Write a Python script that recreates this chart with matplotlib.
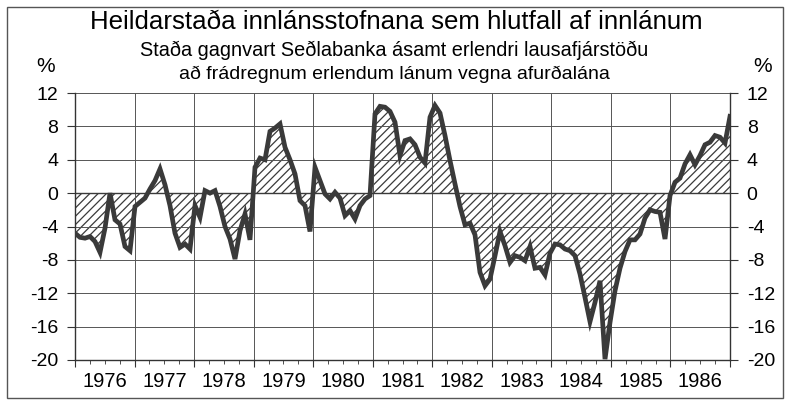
import numpy as np
import matplotlib
matplotlib.use("Agg")
import matplotlib.pyplot as plt
from matplotlib.patches import Rectangle

plt.rcParams['font.family'] = ['Liberation Sans', 'DejaVu Sans']
plt.rcParams['hatch.linewidth'] = 0.9
plt.rcParams['hatch.color'] = '#3a3a3a'

title = "Heildarstaða innlánsstofnana sem hlutfall af innlánum"
subtitle1 = "Staða gagnvart Seðlabanka ásamt erlendri lausafjárstöðu"
subtitle2 = "að frádregnum erlendum lánum vegna afurðalána"

years = [1976, 1977, 1978, 1979, 1980, 1981, 1982, 1983, 1984, 1985, 1986]
yticks = [12, 8, 4, 0, -4, -8, -12, -16, -20]

# Monthly values, Jan 1976 - Dec 1986 (%)
values = [
    -4.8, -5.3, -5.4, -5.2, -5.8, -7.1, -4.2, 0.0, -3.2, -3.7, -6.4, -6.9,      # 1976
    -1.6, -1.1, -0.6, 0.5, 1.5, 2.9, 1.0, -1.5, -4.8, -6.5, -6.1, -6.7,         # 1977
    -1.5, -2.9, 0.3, 0.0, 0.3, -1.6, -4.0, -5.5, -7.9, -4.5, -2.5, -5.6,        # 1978
    3.1, 4.2, 4.0, 7.4, 7.8, 8.3, 5.5, 4.0, 2.3, -0.9, -1.5, -4.6,              # 1979
    3.1, 1.5, -0.1, -0.7, 0.1, -0.6, -2.7, -2.1, -3.1, -1.5, -0.7, -0.3,        # 1980
    9.5, 10.4, 10.3, 9.8, 8.5, 4.5, 6.3, 6.5, 5.8, 4.3, 3.6, 9.1,               # 1981
    10.5, 9.6, 6.9, 3.9, 1.1, -1.6, -3.8, -3.6, -5.0, -9.5, -11.1, -10.3,       # 1982
    -7.5, -4.6, -6.3, -8.3, -7.5, -7.7, -8.1, -6.4, -9.0, -8.9, -9.8, -7.2,     # 1983
    -6.1, -6.2, -6.7, -6.9, -7.5, -9.7, -12.5, -15.4, -13.1, -10.5, -19.9, -15.5,  # 1984
    -11.7, -9.0, -7.0, -5.6, -5.6, -4.9, -3.0, -2.0, -2.2, -2.3, -5.5, -0.3,    # 1985
    1.3, 1.8, 3.5, 4.6, 3.4, 4.5, 5.8, 6.1, 6.9, 6.7, 6.0, 9.2,                 # 1986
]

vals = np.array(values)
t = np.linspace(years[0], years[-1] + 1, len(vals))

fig = plt.figure(figsize=(7.9, 4.07), dpi=100)
ax = fig.add_axes([75/790, 1 - 360/407, 655/790, 267/407])

dark = '#3a3a3a'
ax.fill_between(t, vals, 0, facecolor='white', edgecolor=dark, hatch='////', linewidth=0)
ax.axhline(0, color=dark, lw=1.0, zorder=2)
ax.plot(t, vals, color=dark, lw=3.4, solid_joinstyle='miter', zorder=4)

ax.set_xlim(years[0], years[-1] + 1)
ax.set_ylim(-20, 12)
ax.set_yticks(yticks)
ax.set_yticklabels([str(v) for v in yticks])
ax.set_xticks([y for y in years] + [years[-1] + 1])
ax.set_xticklabels([])
ax.set_xticks([y + q / 4 for y in years for q in (1, 2, 3)], minor=True)
for y in years:
    ax.text(y + 0.5, -21.4, str(y), ha='center', va='top', fontsize=14.5,
            transform=ax.transData, clip_on=False)

ax.grid(True, which='major', color='#555555', lw=0.7)
ax.tick_params(axis='y', which='major', left=True, right=True, labelleft=True, labelright=True,
               direction='out', length=6, labelsize=14, color='#333333', pad=6)
ax.tick_params(axis='x', which='major', direction='out', length=5, color='#333333')
ax.tick_params(axis='x', which='minor', direction='out', length=3, color='#333333')
for s in ['left', 'right', 'bottom']:
    ax.spines[s].set_color('#333333')
    ax.spines[s].set_linewidth(1.0)
ax.spines['top'].set_visible(False)

fig.text(396/790, 1 - 22/407, title, ha='center', va='center', fontsize=18.6)
fig.text(394/790, 1 - 50/407, subtitle1, ha='center', va='center', fontsize=14.3)
fig.text(394/790, 1 - 74/407, subtitle2, ha='center', va='center', fontsize=14.0)
fig.text(46/790, 1 - 67/407, '%', ha='center', va='center', fontsize=15)
fig.text(763/790, 1 - 67/407, '%', ha='center', va='center', fontsize=15)

fig.patches.append(Rectangle((7/790, 1 - 398/407), 776/790, 391/407, transform=fig.transFigure,
                             fill=False, edgecolor='#555555', lw=1.0))

fig.savefig('out.png', dpi=100, facecolor='white')
